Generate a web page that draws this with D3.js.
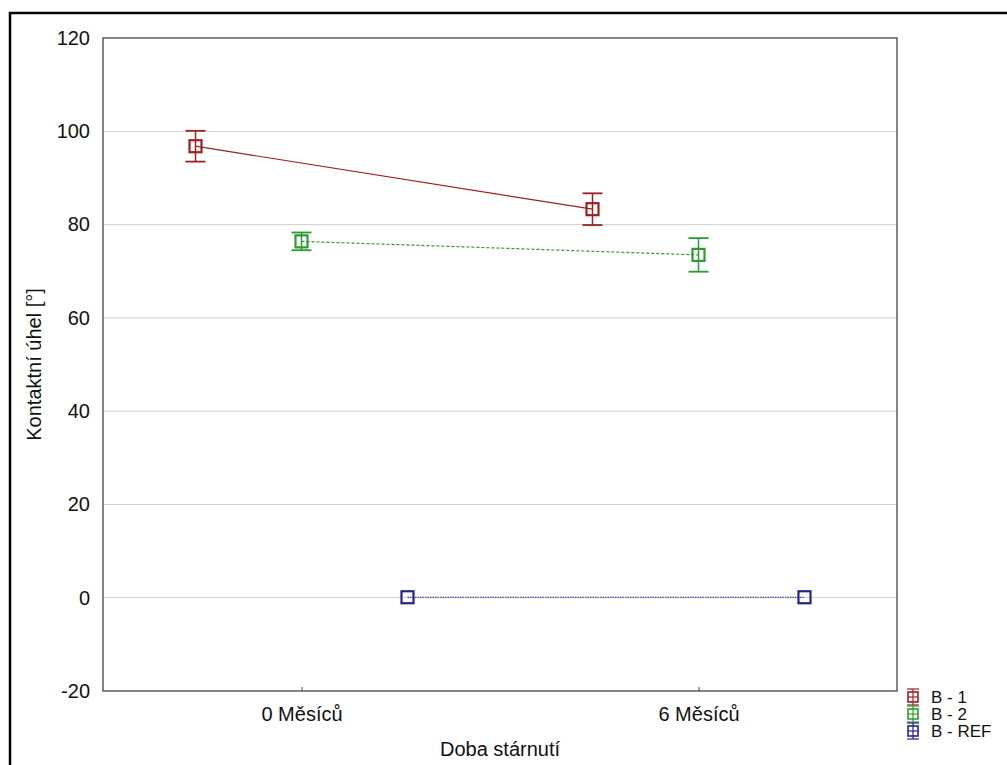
<!DOCTYPE html>
<html><head><meta charset="utf-8">
<script src="https://cdn.jsdelivr.net/npm/d3@7"></script>
<style>body{margin:0;background:#fff;}svg{display:block;font-family:"Liberation Sans",Arial,sans-serif;}</style>
</head><body>
<script>
const categories = ["0 Měsíců", "6 Měsíců"];
const seriesNames = ["B - 1", "B - 2", "B - REF"];
const seriesColors = ["#9e1f22", "#2e9b32", "#22238f"];
const b1Mean = [96.8, 83.3];
const b1Err = [3.3, 3.4];
const b2Mean = [76.4, 73.5];
const b2Err = [1.9, 3.6];
const refMean = [0.1, 0.1];
const refErr = [0, 0];
const yTicks = [-20, 0, 20, 40, 60, 80, 100, 120];

const series = [
  {name: seriesNames[0], color: seriesColors[0], mean: b1Mean, err: b1Err, dash: null},
  {name: seriesNames[1], color: seriesColors[1], mean: b2Mean, err: b2Err, dash: "3,2"},
  {name: seriesNames[2], color: seriesColors[2], mean: refMean, err: refErr, dash: "1.5,1"}
];

const W = 1007, H = 765;
const FS = 20;
const m = {left: 103, top: 38, right: 897, bottom: 691};
const svg = d3.select("body").append("svg").attr("width", W).attr("height", H);

// outer frame
svg.append("rect").attr("x", 10).attr("y", 13).attr("width", 1100).attr("height", 900)
  .attr("fill", "none").attr("stroke", "#000").attr("stroke-width", 2.5);

const y = d3.scaleLinear().domain([-20, 120]).range([m.bottom, m.top]);
const x = d3.scaleBand().domain(categories).range([m.left, m.right]).paddingInner(1).paddingOuter(0.5);
const off = d3.scalePoint().domain(seriesNames).range([-106, 106]);
const cx = c => x(c) + x.bandwidth() / 2;

// grid
svg.append("g").selectAll("line").data(yTicks.filter(t => t !== 120 && t !== -20)).join("line")
  .attr("x1", m.left).attr("x2", m.right).attr("y1", d => y(d)).attr("y2", d => y(d))
  .attr("stroke", "#d0d0d0").attr("stroke-width", 1);

// axes
const yAxis = d3.axisLeft(y).tickValues(yTicks).tickSize(0).tickPadding(13).tickFormat(d => String(d));
const gy = svg.append("g").attr("transform", `translate(${m.left},0)`).call(yAxis);
gy.select(".domain").remove();
gy.selectAll("text").attr("font-size", FS).attr("fill", "#111").attr("font-family", "Liberation Sans, Arial, sans-serif");

const xAxis = d3.axisBottom(x).tickSize(-4).tickPadding(12);
const gx = svg.append("g").attr("transform", `translate(0,${m.bottom})`).call(xAxis);
gx.select(".domain").remove();
gx.selectAll("line").attr("stroke", "#444");
gx.selectAll("text").attr("font-size", FS).attr("fill", "#111").attr("font-family", "Liberation Sans, Arial, sans-serif").attr("dy", "0.9em");

// plot border
svg.append("rect").attr("x", m.left).attr("y", m.top).attr("width", m.right - m.left).attr("height", m.bottom - m.top)
  .attr("fill", "none").attr("stroke", "#444").attr("stroke-width", 1.3);

// axis titles
svg.append("text").attr("x", (m.left + m.right) / 2).attr("y", 756).attr("text-anchor", "middle")
  .attr("font-size", FS).attr("fill", "#111").text("Doba stárnutí");
svg.append("text").attr("transform", `translate(41,${(m.top + m.bottom) / 2}) rotate(-90)`).attr("text-anchor", "middle")
  .attr("font-size", FS).attr("fill", "#111").text("Kontaktní úhel [°]");

// series
series.forEach(s => {
  const pts = categories.map((c, i) => ({x: cx(c) + off(s.name), m: s.mean[i], e: s.err[i]}));
  const line = d3.line().x(d => d.x).y(d => y(d.m));
  svg.append("path").datum(pts).attr("d", line).attr("fill", "none").attr("stroke", s.color)
    .attr("stroke-width", 1.2).attr("stroke-dasharray", s.dash);
  const g = svg.append("g");
  pts.forEach(p => {
    if (p.e > 0) {
      g.append("line").attr("x1", p.x).attr("x2", p.x).attr("y1", y(p.m + p.e)).attr("y2", y(p.m - p.e))
        .attr("stroke", s.color).attr("stroke-width", 1.5);
      [p.m + p.e, p.m - p.e].forEach(v => g.append("line").attr("x1", p.x - 10).attr("x2", p.x + 10)
        .attr("y1", y(v)).attr("y2", y(v)).attr("stroke", s.color).attr("stroke-width", 1.8));
    }
    g.append("rect").attr("x", p.x - 6).attr("y", y(p.m) - 6).attr("width", 12).attr("height", 12)
      .attr("fill", "none").attr("stroke", s.color).attr("stroke-width", 2.2);
  });
});

// legend
const lg = svg.append("g");
series.forEach((s, i) => {
  const ly = 697 + i * 17;
  const lx = 913;
  const gg = lg.append("g").attr("stroke", s.color).attr("fill", "none");
  gg.append("line").attr("x1", lx).attr("x2", lx).attr("y1", ly - 8).attr("y2", ly + 8).attr("stroke-width", 1.2);
  gg.append("line").attr("x1", lx - 6).attr("x2", lx + 6).attr("y1", ly - 8).attr("y2", ly - 8).attr("stroke-width", 1.2);
  gg.append("line").attr("x1", lx - 6).attr("x2", lx + 6).attr("y1", ly + 8).attr("y2", ly + 8).attr("stroke-width", 1.2);
  gg.append("line").attr("x1", lx - 5).attr("x2", lx + 5).attr("y1", ly).attr("y2", ly).attr("stroke-width", 1.2);
  gg.append("rect").attr("x", lx - 5).attr("y", ly - 5).attr("width", 10).attr("height", 10).attr("stroke-width", 1.6);
  lg.append("text").attr("x", 931).attr("y", ly + 6).attr("font-size", 17).attr("fill", "#111").text(s.name);
});
</script>
</body></html>
